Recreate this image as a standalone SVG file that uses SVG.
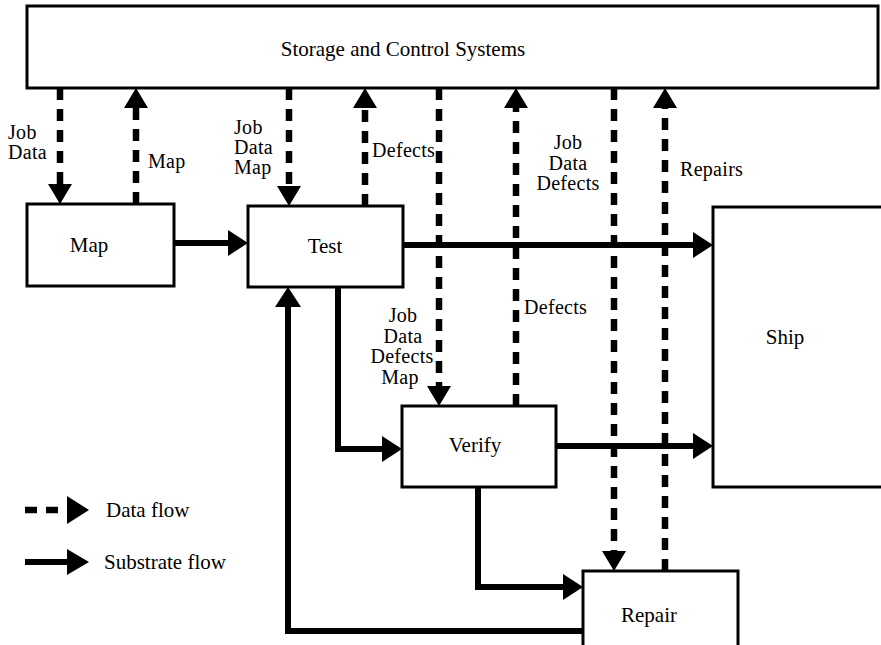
<svg xmlns="http://www.w3.org/2000/svg" width="881" height="645" viewBox="0 0 881 645">
  <style>
    .box { fill: #fff; stroke: #000; stroke-width: 3; }
    text { font-family: 'Liberation Serif', 'Times New Roman', 'DejaVu Serif', serif; font-size: 21px; fill: #000; }
    .lab { font-size: 20px; letter-spacing: 0.3px; }
    .mid { text-anchor: middle; }
    .data { fill: none; stroke: #000; stroke-width: 6.5; stroke-dasharray: 12 9; }
    .sub { fill: none; stroke: #000; stroke-width: 6; stroke-linejoin: miter; }
  </style>
  <defs>
    <marker id="headData" markerUnits="userSpaceOnUse" markerWidth="22" markerHeight="26" refX="0" refY="12" orient="auto" viewBox="0 0 22 24" overflow="visible">
      <path d="M0,0 L20,12 L0,24 Z" fill="#000"/>
    </marker>
    <marker id="headSub" markerUnits="userSpaceOnUse" markerWidth="22" markerHeight="28" refX="0" refY="13" orient="auto" viewBox="0 0 22 26" overflow="visible">
      <path d="M0,0 L20,13 L0,26 Z" fill="#000"/>
    </marker>
  </defs>

  <g id="storage">
    <rect class="box" x="27" y="6" width="851" height="82"/>
    <text class="mid" x="403" y="56">Storage and Control Systems</text>
  </g>
  <g id="map">
    <rect class="box" x="27" y="204" width="147" height="82"/>
    <text class="mid" x="89" y="252">Map</text>
  </g>
  <g id="test">
    <rect class="box" x="248" y="206" width="155" height="81"/>
    <text class="mid" x="325" y="253">Test</text>
  </g>
  <g id="verify">
    <rect class="box" x="402" y="406" width="154" height="81"/>
    <text class="mid" x="475" y="452">Verify</text>
  </g>
  <g id="repair">
    <rect class="box" x="583" y="571" width="155" height="76"/>
    <text class="mid" x="649" y="622">Repair</text>
  </g>
  <g id="ship">
    <rect class="box" x="713" y="207" width="170" height="280"/>
    <text class="mid" x="785" y="344">Ship</text>
  </g>

  <g id="connectors">
    <!-- data flows between storage and stations -->
    <line class="data" x1="60" y1="88" x2="60" y2="184" marker-end="url(#headData)"/>
    <line class="data" x1="136" y1="204" x2="136" y2="108" marker-end="url(#headData)"/>
    <line class="data" x1="289" y1="88" x2="289" y2="186" marker-end="url(#headData)"/>
    <line class="data" x1="365" y1="206" x2="365" y2="108" marker-end="url(#headData)"/>
    <line class="data" x1="439" y1="88" x2="439" y2="386" marker-end="url(#headData)"/>
    <line class="data" x1="516" y1="406" x2="516" y2="108" marker-end="url(#headData)"/>
    <line class="data" x1="614" y1="88" x2="614" y2="551" marker-end="url(#headData)"/>
    <line class="data" x1="665" y1="571" x2="665" y2="108" marker-end="url(#headData)"/>

    <!-- substrate flows -->
    <path class="sub" d="M174,243 H228" marker-end="url(#headSub)"/>
    <path class="sub" d="M403,245 H693" marker-end="url(#headSub)"/>
    <path class="sub" d="M556,446 H693" marker-end="url(#headSub)"/>
    <path class="sub" d="M338,287 V449 H382" marker-end="url(#headSub)"/>
    <path class="sub" d="M478,487 V587 H563" marker-end="url(#headSub)"/>
    <path class="sub" d="M583,631 H288 V307" marker-end="url(#headSub)"/>

    <!-- connector labels -->
    <text class="lab" x="8" y="139">Job<tspan x="8" dy="20">Data</tspan></text>
    <text class="lab" x="148" y="168">Map</text>
    <text class="lab" x="234" y="134">Job<tspan x="234" dy="20">Data</tspan><tspan x="234" dy="20">Map</tspan></text>
    <text class="lab" x="372" y="157">Defects</text>
    <text class="lab mid" x="568" y="149">Job<tspan x="568" dy="20.5">Data</tspan><tspan x="568" dy="20.5">Defects</tspan></text>
    <text class="lab" x="680" y="176">Repairs</text>
    <text class="lab" x="524" y="314">Defects</text>
    <text class="lab mid" x="403" y="322">Job<tspan x="403" dy="20.5">Data</tspan><tspan x="402" dy="20.5">Defects</tspan><tspan x="400" dy="21">Map</tspan></text>
  </g>

  <g id="legend">
    <line class="data" x1="25" y1="510" x2="67" y2="510" stroke-dasharray="8 9"/>
    <path d="M67,496 L89,510 L67,524 Z" fill="#000"/>
    <text x="106" y="517">Data flow</text>
    <line class="sub" x1="25" y1="562" x2="68" y2="562"/>
    <path d="M67,549 L89,562 L67,575 Z" fill="#000"/>
    <text x="104" y="569">Substrate flow</text>
  </g>
</svg>
